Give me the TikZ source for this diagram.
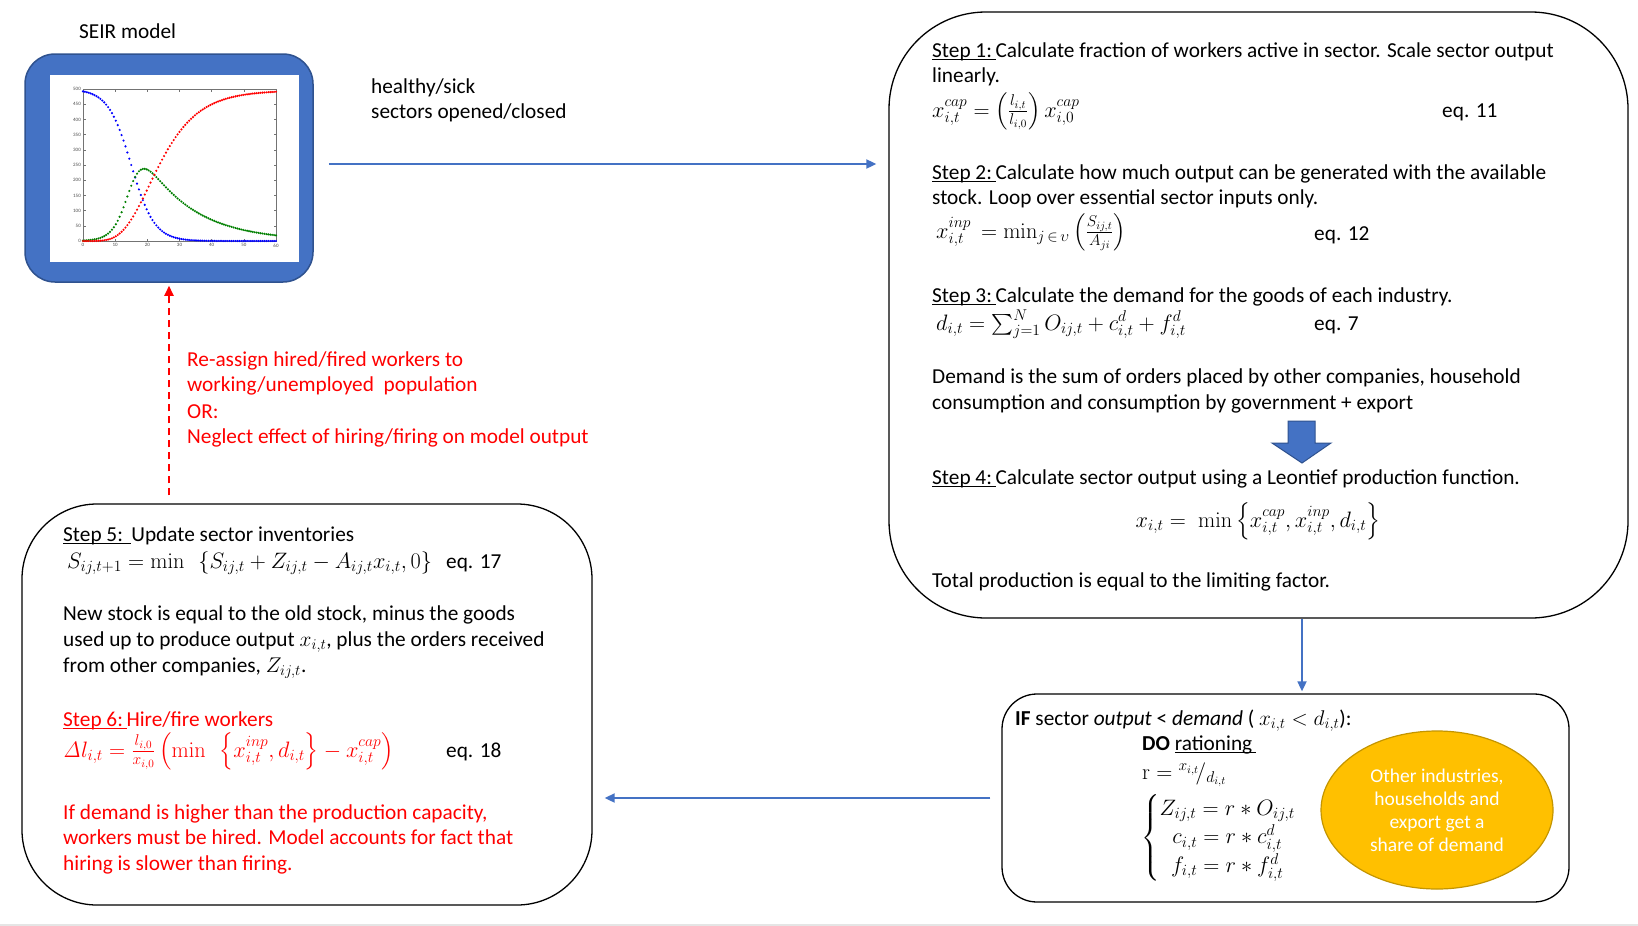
\documentclass[tikz,border=0pt]{standalone}
\usepackage{fix-cm}
\usepackage{amsmath}
\usepackage[no-math]{fontspec}
\setmainfont{Carlito}
\usetikzlibrary{arrows.meta,shapes.geometric,calc}
\definecolor{obl}{HTML}{4472C4}
\definecolor{obd}{HTML}{2F528F}
\definecolor{gld}{HTML}{FFC000}
\definecolor{glddk}{HTML}{C49500}
\definecolor{rd}{HTML}{FF0000}
\definecolor{sblue}{HTML}{0000FF}
\definecolor{sgreen}{HTML}{008000}
\definecolor{sred}{HTML}{FF0000}
\newcommand{\stepul}[1]{\setbox0\hbox{#1\,}\rlap{\rule[-3pt]{\wd0}{1.2pt}}\box0}
\tikzset{
  txt/.style={anchor=base west, inner sep=0pt, font=\fontsize{21.3}{25}\selectfont},
  mtxt/.style={anchor=base west, inner sep=0pt, font=\fontsize{22.3}{25}\selectfont},
  redtxt/.style={txt, text=rd},
  panel/.style={draw=black, line width=1.3pt, rectangle, fill=white},
  flow/.style={draw=obl, line width=1.8pt, -{Triangle[length=10pt,width=9pt]}},
  redflow/.style={draw=rd, line width=1.8pt, dash pattern=on 7pt off 5pt, -{Triangle[length=10pt,width=9pt]}},
  ticklab/.style={inner sep=0pt, font=\fontsize{5}{6}\selectfont, text=black!70},
}
\begin{document}
\begin{tikzpicture}[x=1pt,y=-1pt,
  declare function={Sf(\t)=500/(1+exp(min((\t-15)/3.6,9)));
                    If(\t)=978*exp(-0.066*\t)/(1+exp(-(\t-15)/2.3));
                    Rf(\t)=495*exp(-11.78*exp(-0.12*\t));}]
\useasboundingbox[fill=white] (0,0) rectangle (1638,926);
\fill[black!10] (0,923.5) rectangle (1638,926);

% ---------- SEIR box ----------
\node[txt] (seirlab) at (79,38) {SEIR model};
\node[rectangle, rounded corners=30pt, fill=obl, draw=obd, line width=1.5pt,
      minimum width=288pt, minimum height=228pt] (seir) at (169,168) {};
\node[rectangle, fill=white, inner sep=0pt, minimum width=249pt, minimum height=187pt] (plotbg) at (174.5,168.5) {};
% axes
\draw[black!55, line width=0.5pt] (83,89) rectangle (276,241);
\foreach \k in {0,10,...,60}{
  \draw[black!55, line width=0.4pt] ({83+\k*193/60},241) -- ++(0,-2.5);
  \draw[black!55, line width=0.4pt] ({83+\k*193/60},89) -- ++(0,2.5);
  \node[ticklab, anchor=north] (xt\k) at ({83+\k*193/60},243.5) {\k};
}
\foreach \k in {0,50,...,500}{
  \draw[black!55, line width=0.4pt] (83,{241-\k*0.304}) -- ++(2.5,0);
  \draw[black!55, line width=0.4pt] (276,{241-\k*0.304}) -- ++(-2.5,0);
  \node[ticklab, anchor=east] (yt\k) at (81,{241-\k*0.304}) {\k};
}
\foreach \t in {0,0.6,...,60.1}{
  \pgfmathsetmacro{\px}{83+\t*3.21667}
  \pgfmathsetmacro{\ps}{241-0.304*Sf(\t)}
  \pgfmathsetmacro{\pi}{241-0.304*If(\t)}
  \pgfmathsetmacro{\pr}{241-0.304*Rf(\t)}
  \fill[sblue] (\px,\ps) circle[radius=1.2];
  \fill[sgreen] (\px,\pi) circle[radius=1.2];
  \fill[sred] (\px,\pr) circle[radius=1.2];
}

\node[txt] (hs) at (371,93) {healthy/sick};
\node[txt] (so) at (371,118) {sectors opened/closed};

% ---------- right panel ----------
\node[panel, rounded corners=97pt, minimum width=739pt, minimum height=606pt] (calc) at (1258.5,315) {};
\node[txt] (s1a) at (932,57) {\stepul{Step 1:}Calculate fraction of workers active in sector. Scale sector output};
\node[txt] (s1b) at (932,82) {linearly.};
\node[mtxt] (e11) at (932,117) {$x_{i,t}^{cap} = \left(\frac{l_{i,t}}{l_{i,0}}\right) x_{i,0}^{cap}$};
\node[txt] (e11l) at (1442,117) {eq. 11};
\node[txt] (s2a) at (932,179) {\stepul{Step 2:}Calculate how much output can be generated with the available};
\node[txt] (s2b) at (932,204) {stock. Loop over essential sector inputs only.};
\node[mtxt] (e12) at (936,238) {$x_{i,t}^{inp} \,= \min\nolimits_{j\,\in\,\upsilon}\left(\frac{S_{ij,t}}{A_{ji}}\right)$};
\node[txt] (e12l) at (1314,240) {eq. 12};
\node[txt] (s3) at (932,302) {\stepul{Step 3:}Calculate the demand for the goods of each industry.};
\node[mtxt] (e7) at (936,330) {$d_{i,t} = \sum\nolimits_{j=1}^{N} O_{ij,t} + c_{i,t}^{d} + f_{i,t}^{d}$};
\node[txt] (e7l) at (1314,330) {eq. 7};
\node[txt] (dm1) at (932,383) {Demand is the sum of orders placed by other companies, household};
\node[txt] (dm2) at (932,409) {consumption and consumption by government + export};
\draw[fill=obl, draw=obd, line width=1pt] (1288,421) -- (1315,421) -- (1315,443) -- (1331,443)
      -- (1302,463) -- (1272,443) -- (1288,443) -- cycle;
\node[txt] (s4) at (932,484) {\stepul{Step 4:}Calculate sector output using a Leontief production function.};
\node[mtxt, anchor=base] (e4) at (1258,527) {$x_{i,t} =\; \min\left\{x_{i,t}^{cap}, x_{i,t}^{inp}, d_{i,t}\right\}$};
\node[txt] (tot) at (932,587) {Total production is equal to the limiting factor.};

% ---------- bottom-left panel ----------
\node[panel, rounded corners=75pt, minimum width=570pt, minimum height=401pt] (inv) at (307,704.5) {};
\node[txt] (s5) at (63,541) {\stepul{Step 5:\ }Update sector inventories};
\node[mtxt] (e17) at (67,568) {$S_{ij,t+1} = \min\ \ \left\{S_{ij,t} + Z_{ij,t} - A_{ij,t}x_{i,t}, 0\right\}$};
\node[txt] (e17l) at (446,568) {eq. 17};
\node[txt] (ns1) at (63,620) {New stock is equal to the old stock, minus the goods};
\node[txt] (ns2) at (63,646) {used up to produce output $x_{i,t}$, plus the orders received};
\node[txt] (ns3) at (63,672) {from other companies, $Z_{ij,t}$.};
\node[redtxt] (s6) at (63,726) {\stepul{Step 6:}Hire/fire workers};
\node[mtxt, text=rd] (e18) at (63,757) {$\mathit{\Delta} l_{i,t} = \frac{l_{i,0}}{x_{i,0}}\left(\min\ \ \left\{x_{i,t}^{inp}, d_{i,t}\right\} - x_{i,t}^{cap}\right)$};
\node[txt] (e18l) at (446,757) {eq. 18};
\node[redtxt] (hr1) at (63,819) {If demand is higher than the production capacity,};
\node[redtxt] (hr2) at (63,844) {workers must be hired. Model accounts for fact that};
\node[redtxt] (hr3) at (63,870) {hiring is slower than firing.};

% ---------- bottom-right panel ----------
\node[panel, rounded corners=35pt, minimum width=567pt, minimum height=208pt] (ration) at (1285.5,798) {};
\node[txt] (ifl) at (1015,725) {\textbf{IF} sector \textit{output} < \textit{demand} ( $x_{i,t} < d_{i,t}$):};
\node[txt] (dol) at (1142,750) {\textbf{DO} \stepul{rationing}};
\node[mtxt] (rl) at (1142,779) {$\mathrm{r} = {}^{x_{i,t}}\!/_{d_{i,t}}$};
\node[mtxt, anchor=west] (cases) at (1141,838) {\renewcommand{\arraystretch}{1.15}$\left\{\begin{array}{@{}c@{}} Z_{ij,t} = r \ast O_{ij,t}\\ c_{i,t} = r\ast c_{i,t}^{d}\\ f_{i,t} = r\ast f_{i,t}^{d}\end{array}\right.$};
\node[ellipse, fill=gld, draw=glddk, line width=1.2pt, minimum width=232pt, minimum height=158pt,
      inner sep=0pt, align=center, text=white, font=\fontsize{19.5}{23}\selectfont] (share) at (1437,810)
      {Other industries,\\households and\\export get a\\share of demand};

% ---------- connectors ----------
\draw[flow] ([xshift=15pt,yshift=4pt]seir.east) coordinate (f1s) -- ([xshift=-12pt]f1s -| calc.west);
\draw[flow] ([xshift=43.5pt]calc.south) coordinate (f2s) -- ([yshift=2pt]f2s |- ration.north);
\draw[flow] ([xshift=-11pt]ration.west) coordinate (f3s) -- ([xshift=12pt]f3s -| inv.east);
\draw[redflow] ([yshift=8pt]seir.south |- inv.north) -- ([yshift=-3pt]seir.south);

% red note
\node[redtxt] (ra1) at (187,366) {Re-assign hired/fired workers to};
\node[redtxt] (ra2) at (187,391) {working/unemployed\ \ population};
\node[redtxt] (ra3) at (187,418) {OR:};
\node[redtxt] (ra4) at (187,443) {Neglect effect of hiring/firing on model output};
\end{tikzpicture}
\end{document}
